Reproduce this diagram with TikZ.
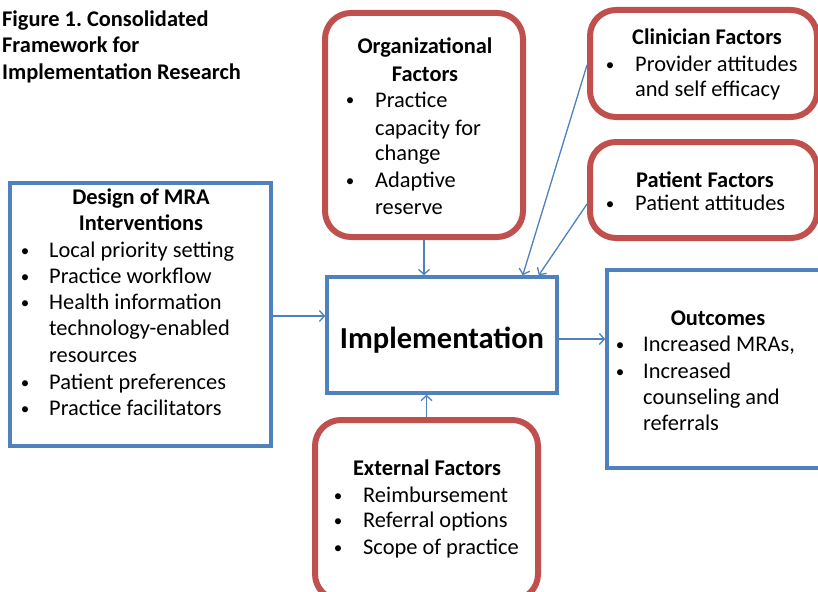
\documentclass[tikz,border=0pt]{standalone}
\usepackage{fontspec}
\setmainfont{Carlito}
\usetikzlibrary{arrows.meta,calc}
\definecolor{boxblue}{RGB}{79,129,189}
\definecolor{boxred}{RGB}{192,80,77}
\frenchspacing
\begin{document}
\begin{tikzpicture}[x=1pt,y=-1pt,
  bluebox/.style={draw=boxblue,line width=3.5pt,fill=white,inner sep=0pt},
  redbox/.style={draw=boxred,line width=6pt,fill=white,rounded corners=26pt,inner sep=0pt},
  arr/.style={draw=boxblue,line width=1.3pt,-{Straight Barb[length=5pt,width=11pt,line width=1.3pt]}},
  txt/.style={anchor=base west,inner sep=0pt,font=\fontsize{22.4}{26}\selectfont},
  head/.style={anchor=base,inner sep=0pt,font=\fontsize{22.4}{26}\selectfont\bfseries},
  bul/.style={anchor=base,inner sep=0pt,font=\fontsize{17}{20}\selectfont},
  ttl/.style={anchor=base west,inner sep=0pt,font=\fontsize{22.4}{26}\selectfont\bfseries}]
\useasboundingbox (0,0) rectangle (818,591);
\fill[white] (0,0) rectangle (818,591);

% boxes
\node[bluebox,minimum width=261pt,minimum height=263pt] (design) at (140.5,314.5) {};
\node[bluebox,minimum width=230pt,minimum height=116pt] (impl) at (442,335) {};
\node[bluebox,minimum width=228pt,minimum height=198pt] (out) at (721,369) {};
\node[redbox,minimum width=198pt,minimum height=224pt] (org) at (424,125) {};
\node[redbox,minimum width=227pt,minimum height=107pt] (clin) at (703.5,63.5) {};
\node[redbox,minimum width=227pt,minimum height=96pt] (pat) at (703.5,190) {};
\node[redbox,minimum width=223pt,minimum height=180pt] (ext) at (426.5,510) {};

% title
\node[ttl] (t1) at (2,27) {Figure 1. Consolidated};
\node[ttl] (t2) at (2,53) {Framework for};
\node[ttl] (t3) at (2,80) {Implementation Research};

% design
\node[head] (d0) at (141,204) {Design of MRA};
\node[head] (d1) at (141,230) {Interventions};
\node[bul] (db1) at (25,256) {•};
\node[txt] (d2) at (49,257) {Local priority setting};
\node[bul] (db2) at (25,282) {•};
\node[txt] (d3) at (49,283) {Practice workflow};
\node[bul] (db3) at (25,308) {•};
\node[txt] (d4) at (49,309) {Health information};
\node[txt] (d5) at (49,335) {technology-enabled};
\node[txt] (d6) at (49,362) {resources};
\node[bul] (db4) at (25,388) {•};
\node[txt] (d7) at (49,389) {Patient preferences};
\node[bul] (db5) at (25,414) {•};
\node[txt] (d8) at (49,415) {Practice facilitators};

% implementation
\node[anchor=base,inner sep=0pt,font=\fontsize{30.5}{34}\selectfont\bfseries] (i0) at (442,348) {Implementation};

% organizational
\node[head] (o0) at (425,54) {Organizational};
\node[head] (o1) at (425,82) {Factors};
\node[bul] (ob1) at (350,106) {•};
\node[txt] (o2) at (375,107) {Practice};
\node[txt] (o3) at (375,135) {capacity for};
\node[txt] (o4) at (375,160) {change};
\node[bul] (ob2) at (350,186) {•};
\node[txt] (o5) at (375,187) {Adaptive};
\node[txt] (o6) at (375,214) {reserve};

% clinician
\node[head] (c0) at (707,45) {Clinician Factors};
\node[bul] (cb1) at (610,71) {•};
\node[txt] (c1) at (635,72) {Provider attitudes};
\node[txt] (c2) at (635,97) {and self efficacy};

% patient
\node[head] (p0) at (705,187) {Patient Factors};
\node[bul] (pb1) at (610,209) {•};
\node[txt] (p1) at (635,210) {Patient attitudes};

% outcomes
\node[head] (u0) at (718,325) {Outcomes};
\node[bul] (ub1) at (620,350) {•};
\node[txt] (u1) at (643,351) {Increased MRAs,};
\node[bul] (ub2) at (620,377) {•};
\node[txt] (u2) at (643,378) {Increased};
\node[txt] (u3) at (643,404) {counseling and};
\node[txt] (u4) at (643,430) {referrals};

% external
\node[head] (e0) at (427,475) {External Factors};
\node[bul] (eb1) at (338,501) {•};
\node[txt] (e1) at (363,502) {Reimbursement};
\node[bul] (eb2) at (338,526) {•};
\node[txt] (e2) at (363,527) {Referral options};
\node[bul] (eb3) at (338,553) {•};
\node[txt] (e3) at (363,554) {Scope of practice};

% connectors
\draw[arr] (org.south) -- (org.south |- impl.north);
\draw[arr] ([yshift=-1.5pt]design.east) -- ([yshift=-1.5pt]design.east -| impl.west);
\draw[arr] ([yshift=-4pt]impl.east) -- ([yshift=-4pt]impl.east -| out.west);
\draw[arr] (ext.north) -- (ext.north |- impl.south);
\draw[arr] ([yshift=-1.5pt]clin.west) -- ([xshift=-36pt]impl.north east);
\draw[arr] ([yshift=-14pt]pat.west) -- ([xshift=-20pt]impl.north east);
\end{tikzpicture}
\end{document}
